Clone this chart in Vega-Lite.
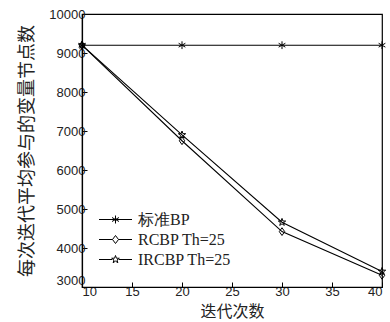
{
  "$schema": "https://vega.github.io/schema/vega-lite/v6.json",
  "width": 300,
  "height": 273,
  "autosize": {"type": "none"},
  "padding": {"left": 82, "top": 14, "right": 8, "bottom": 35},
  "background": "white",
  "config": {
    "view": {"stroke": "black", "strokeWidth": 1.2},
    "font": "Liberation Sans"
  },
  "data": {
    "values": [
      {"s": "标准BP", "x": 10, "y": 9200},
      {"s": "标准BP", "x": 20, "y": 9200},
      {"s": "标准BP", "x": 30, "y": 9200},
      {"s": "标准BP", "x": 40, "y": 9200},
      {"s": "RCBP Th=25", "x": 10, "y": 9200},
      {"s": "RCBP Th=25", "x": 20, "y": 6750},
      {"s": "RCBP Th=25", "x": 30, "y": 4420},
      {"s": "RCBP Th=25", "x": 40, "y": 3300},
      {"s": "IRCBP Th=25", "x": 10, "y": 9200},
      {"s": "IRCBP Th=25", "x": 20, "y": 6900},
      {"s": "IRCBP Th=25", "x": 30, "y": 4660},
      {"s": "IRCBP Th=25", "x": 40, "y": 3400}
    ]
  },
  "encoding": {
    "x": {
      "field": "x", "type": "quantitative",
      "scale": {"domain": [10, 40], "nice": false},
      "axis": {
        "values": [10, 15, 20, 25, 30, 35, 40],
        "title": "迭代次数", "titleFont": "Noto Sans CJK SC", "titleFontWeight": "normal",
        "titleFontSize": 16, "titleBaseline": "bottom", "titleY": 32, "titleColor": "#222",
        "labelFontSize": 13, "labelColor": "#222", "labelPadding": 3,
        "tickSize": -5, "tickColor": "black", "domainColor": "black", "domainWidth": 1.2,
        "grid": false
      }
    },
    "y": {
      "field": "y", "type": "quantitative",
      "scale": {"domain": [3000, 10000], "nice": false},
      "axis": {
        "values": [3000, 4000, 5000, 6000, 7000, 8000, 9000, 10000],
        "format": "d",
        "labelBaseline": {"condition": {"test": "datum.value == 3000", "value": "bottom"}, "value": "middle"},
        "title": "每次迭代平均参与的变量节点数", "titleFont": "Noto Sans CJK SC", "titleFontWeight": "normal",
        "titleFontSize": 18, "titlePadding": 12, "titleColor": "#222",
        "labelFontSize": 13, "labelColor": "#222", "labelPadding": 2,
        "tickSize": -5, "tickColor": "black", "domainColor": "black", "domainWidth": 1.2,
        "grid": false
      }
    }
  },
  "layer": [
    {
      "mark": {"type": "line", "color": "black", "strokeWidth": 1.1},
      "encoding": {"detail": {"field": "s"}}
    },
    {
      "mark": {"type": "point", "filled": false, "color": "black", "strokeWidth": 1, "size": 60, "opacity": 1},
      "encoding": {
        "shape": {
          "field": "s",
          "scale": {
            "domain": ["标准BP", "RCBP Th=25", "IRCBP Th=25"],
            "range": [
              "M0,-1V1M-0.87,-0.5L0.87,0.5M-0.87,0.5L0.87,-0.5",
              "M0,-1L0.7,0L0,1L-0.7,0Z",
              "M0,-1L0.235,-0.323L0.95,-0.31L0.38,0.123L0.588,0.81L0,0.4L-0.588,0.81L-0.38,0.123L-0.95,-0.31L-0.235,-0.323Z"
            ]
          },
          "legend": null
        }
      }
    },
    {
      "mark": {"type": "point", "filled": false, "color": "black", "strokeWidth": 1, "size": 0, "opacity": 1},
      "encoding": {
        "shape": {
          "field": "s",
          "scale": {
            "domain": ["标准BP", "RCBP Th=25", "IRCBP Th=25"],
            "range": [
              "M-1.65,0H1.65M0,-0.4V0.4M-0.35,-0.2L0.35,0.2M-0.35,0.2L0.35,-0.2",
              "M-1.65,0H-0.3M0.3,0H1.65M0,-0.4L0.3,0L0,0.4L-0.3,0Z",
              "M-1.65,0H-0.33M0.33,0H1.65M0,-0.4L0.094,-0.129L0.38,-0.124L0.152,0.049L0.235,0.324L0,0.16L-0.235,0.324L-0.152,0.049L-0.38,-0.124L-0.094,-0.129Z"
            ]
          },
          "legend": {
            "title": null,
            "orient": "none",
            "legendX": 15,
            "legendY": 195,
            "symbolSize": 400,
            "symbolStrokeColor": "black",
            "symbolFillColor": "transparent",
            "symbolStrokeWidth": 1,
            "labelFont": "Liberation Serif",
            "labelFontSize": 16,
            "labelColor": "#222",
            "labelOffset": 12,
            "rowPadding": 1,
            "symbolOffset": 8
          }
        }
      }
    }
  ],
  "resolve": {"scale": {"shape": "independent"}, "legend": {"shape": "independent"}}
}
